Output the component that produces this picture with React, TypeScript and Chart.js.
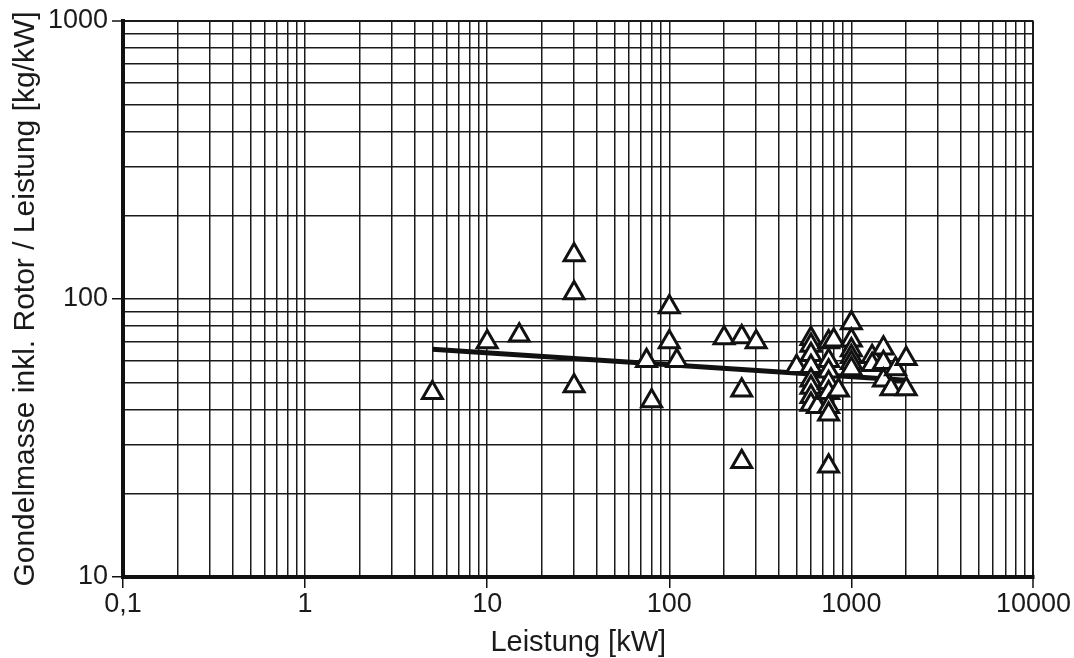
import React, { useEffect, useRef } from "react";
import { Chart, registerables } from "chart.js";

Chart.register(...registerables);

// Tick structure
const X_MAJOR = [0.1, 1, 10, 100, 1000, 10000];
const X_LABELS = ["0,1", "1", "10", "100", "1000", "10000"];
const Y_MAJOR = [10, 100, 1000];
const Y_LABELS = ["10", "100", "1000"];
const MULTIPLES = [1, 2, 3, 4, 5, 6, 7, 8, 9];

// Measured turbines: power [kW] and nacelle mass incl. rotor / power [kg/kW]
const POWER_KW = [
  5, 10, 15, 30, 30, 30, 75, 80, 100, 100, 110, 200, 250, 300, 250, 250,
  500,
  600, 600, 600, 600, 600, 600, 600, 600,
  650,
  750, 750, 750, 750, 750, 750, 750, 750,
  800, 850,
  1000, 1000, 1000, 1000, 1000, 1000,
  1300, 1300, 1500, 1500, 1500, 1650, 1750, 2000, 2000,
];
const MASS_RATIO = [
  46, 70, 74, 144, 105, 48.6, 60, 43, 93.6, 70, 60, 72.4, 73, 70, 47, 26,
  57,
  72, 68, 63, 57, 51, 48, 44.5, 41.7,
  41,
  70, 60, 55, 50, 46, 41, 38.5, 25,
  71, 47,
  82, 71, 65.5, 62, 59, 56,
  62, 58, 66.5, 59, 51, 47.5, 56, 61, 47.5,
];

// Regression line endpoints
const FIT_X = [5, 2000];
const FIT_Y = [66, 51];

const buildGrid = (majors: number[]) => {
  const out: number[] = [];
  majors.forEach((d, i) => {
    if (i === majors.length - 1) out.push(d);
    else MULTIPLES.forEach((m) => out.push(d * m));
  });
  return out;
};

const FONT = "'Liberation Sans', Arial, sans-serif";

export default function App() {
  const ref = useRef<HTMLCanvasElement>(null);
  useEffect(() => {
    if (!ref.current) return;
    const xGrid = buildGrid(X_MAJOR);
    const yGrid = buildGrid(Y_MAJOR);
    const isMajor = (list: number[], v: number) =>
      list.some((m) => Math.abs(m - v) / m < 1e-9);
    const chart = new Chart(ref.current, {
      type: "scatter",
      data: {
        datasets: [
          {
            label: "Anlagen",
            data: POWER_KW.map((x, i) => ({ x, y: MASS_RATIO[i] })),
            pointStyle: "triangle",
            pointRadius: 11.5,
            pointBorderWidth: 3,
            pointBackgroundColor: "#ffffff",
            pointBorderColor: "#111111",
            showLine: false,
          },
          {
            label: "Trend",
            type: "line",
            data: FIT_X.map((x, i) => ({ x, y: FIT_Y[i] })),
            borderColor: "#111111",
            borderWidth: 5,
            pointRadius: 0,
            fill: false,
          },
        ],
      },
      options: {
        animation: false,
        responsive: false,
        layout: { padding: { left: 0, right: 39, top: 21, bottom: 0 } },
        plugins: {
          legend: { display: false },
          tooltip: { enabled: false },
        },
        scales: {
          x: {
            type: "logarithmic",
            min: 0.1,
            max: 10000,
            afterBuildTicks: (s: any) => {
              s.ticks = xGrid.map((v) => ({ value: v }));
            },
            afterFit: (s: any) => {
              s.height = 81;
            },
            border: { display: true, width: 4, color: "#111" },
            grid: {
              color: "#1a1a1a",
              lineWidth: (c: any) =>
                c.tick && Math.abs(c.tick.value - 10000) < 1e-6 ? 2 : 1.5,
              tickLength: 11,
              tickWidth: 1.5,
              tickColor: (c: any) =>
                c.tick && isMajor(X_MAJOR, c.tick.value) ? "#111" : "rgba(0,0,0,0)",
            },
            ticks: {
              autoSkip: false,
              maxRotation: 0,
              padding: 3,
              color: "#1a1a1a",
              font: { family: FONT, size: 27, lineHeight: 1 },
              callback: (v: any) => {
                const i = X_MAJOR.findIndex((m) => Math.abs(m - v) / m < 1e-9);
                return i >= 0 ? X_LABELS[i] : "";
              },
            },
            title: {
              display: true,
              text: "Leistung [kW]",
              color: "#1a1a1a",
              font: { family: FONT, size: 29, lineHeight: 1 },
              padding: { top: 0, bottom: 1 },
            },
          },
          y: {
            type: "logarithmic",
            min: 10,
            max: 1000,
            afterBuildTicks: (s: any) => {
              s.ticks = yGrid.map((v) => ({ value: v }));
            },
            afterFit: (s: any) => {
              s.width = 123;
            },
            border: { display: true, width: 4, color: "#111" },
            grid: {
              color: "#1a1a1a",
              lineWidth: (c: any) =>
                c.tick && Math.abs(c.tick.value - 1000) < 1e-6 ? 2 : 1.5,
              tickLength: 11,
              tickWidth: 1.5,
              tickColor: (c: any) =>
                c.tick && isMajor(Y_MAJOR, c.tick.value) ? "#111" : "rgba(0,0,0,0)",
            },
            ticks: {
              autoSkip: false,
              padding: 4,
              color: "#1a1a1a",
              font: { family: FONT, size: 27, lineHeight: 1 },
              callback: (v: any) => {
                const i = Y_MAJOR.findIndex((m) => Math.abs(m - v) / m < 1e-9);
                return i >= 0 ? Y_LABELS[i] : "";
              },
            },
            title: {
              display: true,
              text: "Gondelmasse inkl. Rotor / Leistung [kg/kW]",
              color: "#1a1a1a",
              font: { family: FONT, size: 30, lineHeight: 1 },
              padding: { top: 11, bottom: 0 },
            },
          },
        },
      },
    } as any);
    return () => chart.destroy();
  }, []);
  return (
    <div style={{ position: "absolute", left: 0, top: 0, width: 1074, height: 658, background: "#fff" }}>
      <canvas ref={ref} width={1074} height={658} />
    </div>
  );
}
